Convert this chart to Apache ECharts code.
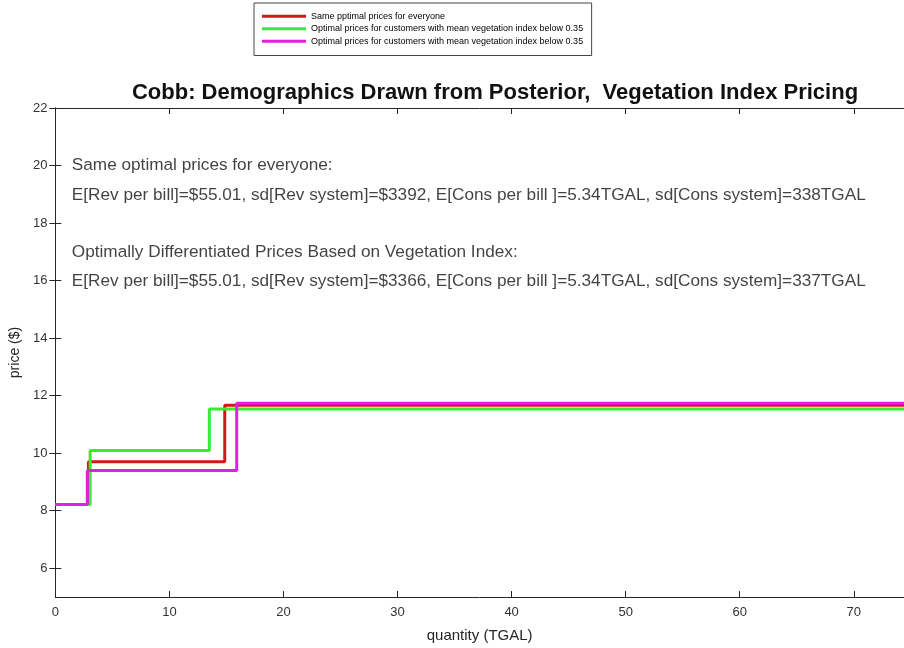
<!DOCTYPE html>
<html>
<head>
<meta charset="utf-8">
<script src="https://cdn.jsdelivr.net/npm/echarts@6/dist/echarts.min.js"></script>
<style>html,body{margin:0;padding:0;background:#fff}#c{width:904px;height:648px}</style>
</head>
<body>
<div id="c"></div>
<script>
// Step-curve breakpoints: quantity (TGAL) where each price level starts
const redQty = [0, 2.9, 14.85, 74.4];
const redPrice = [8.22, 9.70, 11.67, 11.67];
const greenQty = [0, 3.05, 13.5, 74.4];
const greenPrice = [8.22, 10.09, 11.54, 11.54];
const magentaQty = [0, 2.8, 15.9, 74.4];
const magentaPrice = [8.22, 9.40, 11.74, 11.74];

const seriesNames = [
  'Same pptimal prices for everyone',
  'Optimal prices for customers with mean vegetation index below 0.35',
  'Optimal prices for customers with mean vegetation index below 0.35 '
];
const yTicks = [6, 8, 10, 12, 14, 16, 18, 20, 22];
const xTicks = [0, 10, 20, 30, 40, 50, 60, 70];
const noteLines = [
  'Same optimal prices for everyone:',
  'E[Rev per bill]=$55.01, sd[Rev system]=$3392, E[Cons per bill ]=5.34TGAL, sd[Cons system]=338TGAL',
  'Optimally Differentiated Prices Based on Vegetation Index:',
  'E[Rev per bill]=$55.01, sd[Rev system]=$3366, E[Cons per bill ]=5.34TGAL, sd[Cons system]=337TGAL'
];
const noteX = 1.4;
const noteYValues = [20, 18.97, 17, 15.97];

const zip = (a, b) => a.map((v, i) => [v, b[i]]);
const font = 'Liberation Sans, Arial, sans-serif';

const chart = echarts.init(document.getElementById('c'), null, {renderer: 'canvas'});
const axisCommon = {
  axisLine: {show: true, lineStyle: {color: '#262626', width: 1}},
  axisTick: {show: true, inside: true, length: 6, lineStyle: {color: '#262626'}},
  splitLine: {show: false}
};
chart.setOption({
  animation: false,
  backgroundColor: '#fff',
  title: {
    text: 'Cobb: Demographics Drawn from Posterior,  Vegetation Index Pricing',
    left: 490, top: 77, textAlign: 'center',
    textStyle: {fontFamily: font, fontSize: 22, fontWeight: 'bold', color: '#111'}
  },
  legend: {
    orient: 'vertical', left: 254, top: 3,
    data: seriesNames,
    icon: 'rect', itemWidth: 44, itemHeight: 3, itemGap: 0,
    padding: [7, 6, 8, 8],
    borderColor: '#444', borderWidth: 1,
    textStyle: {fontFamily: font, fontSize: 9, color: '#000', lineHeight: 12.5}
  },
  grid: {left: 54, top: 108, bottom: 47, right: -1},
  xAxis: [
    Object.assign({}, axisCommon, {
      type: 'value', min: 0, max: 74.4, position: 'bottom',
      axisTick: Object.assign({}, axisCommon.axisTick, {customValues: xTicks}),
      axisLabel: {customValues: xTicks, color: '#333', fontFamily: font, fontSize: 13, margin: 9},
      name: 'quantity (TGAL)', nameLocation: 'middle', nameGap: 31,
      nameTextStyle: {fontFamily: font, fontSize: 15, color: '#262626'}
    }),
    Object.assign({}, axisCommon, {
      type: 'value', min: 0, max: 74.4, position: 'top',
      axisTick: Object.assign({}, axisCommon.axisTick, {customValues: xTicks}),
      axisLabel: {show: false}
    })
  ],
  yAxis: [
    Object.assign({}, axisCommon, {
      type: 'value', min: 5, max: 22, position: 'left',
      axisTick: Object.assign({}, axisCommon.axisTick, {customValues: yTicks}),
      axisLabel: {customValues: yTicks, color: '#333', fontFamily: font, fontSize: 13, margin: 8},
      name: 'price ($)', nameLocation: 'middle', nameGap: 27, nameRotate: 90,
      nameTextStyle: {fontFamily: font, fontSize: 14, color: '#262626'}
    }),
    Object.assign({}, axisCommon, {
      type: 'value', min: 5, max: 22, position: 'right',
      axisTick: Object.assign({}, axisCommon.axisTick, {customValues: yTicks}),
      axisLabel: {show: false}
    })
  ],
  series: [
    {name: seriesNames[0], type: 'line', step: 'end', data: zip(redQty, redPrice),
     showSymbol: false, lineStyle: {width: 3, color: '#d01818'}, itemStyle: {color: '#d01818'}, z: 2},
    {name: seriesNames[1], type: 'line', step: 'end', data: zip(greenQty, greenPrice),
     showSymbol: false, lineStyle: {width: 3, color: '#33ee33'}, itemStyle: {color: '#33ee33'}, z: 3},
    {name: seriesNames[2], type: 'line', step: 'end', data: zip(magentaQty, magentaPrice),
     showSymbol: false, lineStyle: {width: 3, color: '#e41ee4'}, itemStyle: {color: '#e41ee4'}, z: 4},
    {name: 'notes', type: 'scatter', symbolSize: 1, itemStyle: {color: 'rgba(0,0,0,0)'},
     silent: true, z: 5,
     data: noteLines.map((t, i) => ({value: [noteX, noteYValues[i]], note: t})),
     label: {show: true, position: 'right', distance: 0,
             formatter: p => p.data.note,
             fontFamily: font, fontSize: 17.2, color: '#111'}}
  ]
});
</script>
</body>
</html>
